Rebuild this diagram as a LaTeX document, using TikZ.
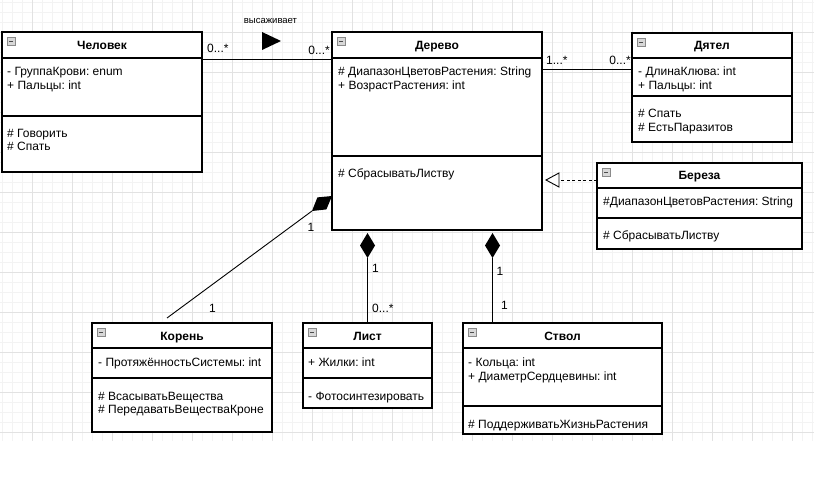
\documentclass[tikz,border=0pt]{standalone}
\usepackage{fontspec}
\setmainfont{Liberation Sans}
\usetikzlibrary{calc}
\frenchspacing

\definecolor{gridminor}{HTML}{F3F3F3}
\definecolor{gridmajor}{HTML}{E2E2E2}
\definecolor{iconfill}{HTML}{D8D8D8}
\definecolor{iconline}{HTML}{8A8A8A}

\tikzset{
  cls/.style={draw=black, line width=1.2pt, fill=white, anchor=north west,
    inner sep=0pt, outer sep=0pt},
  sepline/.style={line width=1.1pt},
  ttl/.style={font=\bfseries\fontsize{12}{14}\selectfont, anchor=base, inner sep=0pt},
  mem/.style={font=\fontsize{12}{14}\selectfont, anchor=base west, inner sep=0pt},
  mult/.style={font=\fontsize{12}{14}\selectfont, inner sep=0pt},
  small/.style={font=\fontsize{9.5}{11}\selectfont, anchor=base, inner sep=0pt},
  conn/.style={line width=0.9pt},
  icon/.style={draw=iconline, fill=iconfill, line width=0.6pt},
}

% collapse icon in the top left corner of a class box
\newcommand\collapseicon[1]{%
  \draw[icon] ([xshift=5pt,yshift=-5pt]#1.north west) rectangle ++(8,8);
  \draw[line width=0.8pt, black!70] ([xshift=7pt,yshift=-9pt]#1.north west) -- ++(4,0);
}

\begin{document}
\begin{tikzpicture}[x=1pt,y=-1pt]
\useasboundingbox (0,0) rectangle (834,478);

% background grid
\begin{scope}
  \clip (0,0) rectangle (814,441);
  \foreach \gx in {2,12,...,812} \draw[gridminor, line width=0.8pt] (\gx,0) -- (\gx,441);
  \foreach \gy in {2,12,...,442} \draw[gridminor, line width=0.8pt] (0,\gy) -- (814,\gy);
  \foreach \gx in {32,72,...,792} \draw[gridmajor, line width=0.8pt] (\gx,0) -- (\gx,441);
  \foreach \gy in {32,72,...,432} \draw[gridmajor, line width=0.8pt] (0,\gy) -- (814,\gy);
\end{scope}

% ---------- class boxes ----------
\node[cls, minimum width=200pt, minimum height=140pt] (chel) at (2,32) {};
\node[cls, minimum width=210pt, minimum height=198pt] (derevo) at (332,32) {};
\node[cls, minimum width=160pt, minimum height=109pt] (dyatel) at (632,33) {};
\node[cls, minimum width=205pt, minimum height=86pt] (bereza) at (597,163) {};
\node[cls, minimum width=180pt, minimum height=109pt] (koren) at (92,323) {};
\node[cls, minimum width=129pt, minimum height=85pt] (list) at (303,323) {};
\node[cls, minimum width=199pt, minimum height=111pt] (stvol) at (463,323) {};

% compartment separators
\draw[sepline] (2,58) -- (202,58) (2,116) -- (202,116);
\draw[sepline] (332,58) -- (542,58) (332,156) -- (542,156);
\draw[sepline] (632,58) -- (792,58) (632,96) -- (792,96);
\draw[sepline] (597,188) -- (802,188) (597,218) -- (802,218);
\draw[sepline] (92,348) -- (272,348) (92,378) -- (272,378);
\draw[sepline] (303,348) -- (432,348) (303,378) -- (432,378);
\draw[sepline] (463,348) -- (662,348) (463,406) -- (662,406);

\collapseicon{chel}
\collapseicon{derevo}
\collapseicon{dyatel}
\collapseicon{bereza}
\collapseicon{koren}
\collapseicon{list}
\collapseicon{stvol}

% ---------- class texts ----------
\node[ttl] (chelT) at (102,50) {Человек};
\node[mem] (chelA1) at (7,76) {- ГруппаКрови: enum};
\node[mem] (chelA2) at (7,90) {+ Пальцы: int};
\node[mem] (chelM1) at (7,138) {\# Говорить};
\node[mem] (chelM2) at (7,151) {\# Спать};

\node[ttl] (derevoT) at (437,50) {Дерево};
\node[mem] (derevoA1) at (338,76) {\# ДиапазонЦветовРастения: String};
\node[mem] (derevoA2) at (338,90) {+ ВозрастРастения: int};
\node[mem] (derevoM1) at (338,178) {\# СбрасыватьЛиству};

\node[ttl] (dyatelT) at (712,50) {Дятел};
\node[mem] (dyatelA1) at (638,76) {- ДлинаКлюва: int};
\node[mem] (dyatelA2) at (638,90) {+ Пальцы: int};
\node[mem] (dyatelM1) at (638,118) {\# Спать};
\node[mem] (dyatelM2) at (638,132) {\# ЕстьПаразитов};

\node[ttl] (berezaT) at (699.5,180) {Береза};
\node[mem] (berezaA1) at (603,206) {\#ДиапазонЦветовРастения: String};
\node[mem] (berezaM1) at (603,240) {\# СбрасыватьЛиству};

\node[ttl] (korenT) at (182,340) {Корень};
\node[mem] (korenA1) at (98,366) {- ПротяжённостьСистемы: int};
\node[mem] (korenM1) at (98,400) {\# ВсасыватьВещества};
\node[mem] (korenM2) at (98,413) {\# ПередаватьВеществаКроне};

\node[ttl] (listT) at (367.5,340) {Лист};
\node[mem] (listA1) at (308,366) {+ Жилки: int};
\node[mem] (listM1) at (308,400) {- Фотосинтезировать};

\node[ttl] (stvolT) at (562.5,340) {Ствол};
\node[mem] (stvolA1) at (468,366) {- Кольца: int};
\node[mem] (stvolA2) at (468,380) {+ ДиаметрСердцевины: int};
\node[mem] (stvolM1) at (468,428) {\# ПоддерживатьЖизньРастения};

% ---------- connectors ----------
% association Человек -- Дерево
\draw[conn] ($(chel.north east)+(0,27)$) -- ($(derevo.north west)+(0,27)$);
\node[mult, anchor=base west] (m1) at (207,53) {0...*};
\node[mult, anchor=base east] (m2) at (330,55) {0...*};
\node[small] (verb) at (270.5,24) {высаживает};
\fill (262,32) -- (281,41) -- (262,50) -- cycle;

% association Дерево -- Дятел
\draw[conn] ($(derevo.north east)+(0,37)$) -- ($(dyatel.north west)+(0,36)$);
\node[mult, anchor=base west] (m3) at (546,65) {1...*};
\node[mult, anchor=base east] (m4) at (631,65) {0...*};

% realization Береза -> Дерево
\coordinate (rtip) at ($(derevo.north east)+(4,148)$);
\draw[conn, dash pattern=on 3pt off 2.5pt] ($(bereza.north west)+(0,17)$) -- ($(rtip)+(13,0)$);
\draw[conn, fill=white] (rtip) -- ++(13,-7) -- ++(0,14) -- cycle;

% composition Корень -> Дерево
\coordinate (ktip) at ($(derevo.north west)+(0,164)$);
\fill (ktip) -- ++(-5.6,13.4) -- ++(-14.4,1.6) -- ++(5.4,-13.6) -- cycle;
\draw[conn] ($(ktip)+(-20,15)$) -- ($(koren.north)+(-15,-5)$);
\node[mult, anchor=base] (m5) at (311,232) {1};
\node[mult, anchor=base] (m6) at (212.5,312) {1};

% composition Лист -> Дерево
\coordinate (ltip) at ($(list.north |- derevo.south)+(0,3)$);
\fill (ltip) -- ++(7.5,12.5) -- ++(-7.5,12.5) -- ++(-7.5,-12.5) -- cycle;
\draw[conn] ($(ltip)+(0,25)$) -- (list.north);
\node[mult, anchor=base] (m7) at (375.5,272) {1};
\node[mult, anchor=base west] (m8) at (372,312) {0...*};

% composition Ствол -> Дерево
\coordinate (stip) at ($(derevo.south)+(55.5,3)$);
\fill (stip) -- ++(7.5,12.5) -- ++(-7.5,12.5) -- ++(-7.5,-12.5) -- cycle;
\draw[conn] ($(stip)+(0,25)$) -- (stip |- stvol.north);
\node[mult, anchor=base] (m9) at (500,275) {1};
\node[mult, anchor=base] (m10) at (504.5,309) {1};

\end{tikzpicture}
\end{document}
